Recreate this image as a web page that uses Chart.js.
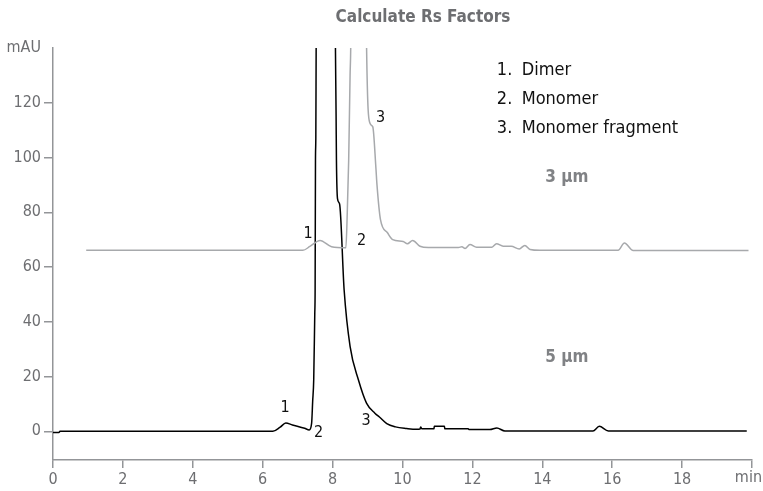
<!DOCTYPE html>
<html>
<head>
<meta charset="utf-8">
<title>Calculate Rs Factors</title>
<script src="https://cdn.jsdelivr.net/npm/chart.js@4.4.0/dist/chart.umd.min.js"></script>
<style>
  html, body { margin: 0; padding: 0; background: #ffffff; }
  #wrap { width: 763px; height: 491px; }
</style>
</head>
<body>
<div id="wrap"><canvas id="rsChart" width="763" height="491"></canvas></div>
<script>
// 5 um column trace (black), time in min, signal in mAU
const blackTime = [0, 0.17, 0.2, 6.29, 6.5, 6.66, 6.85, 7.2, 7.33, 7.4, 7.43, 7.46, 7.49, 7.5, 7.51, 7.52, 7.53, 7.8,
  8.08, 8.1, 8.11, 8.14, 8.2, 8.33, 8.5, 8.74, 8.97, 9.21, 9.34, 9.55, 9.8, 10.12, 10.4, 10.5, 10.52, 10.55, 10.9, 10.91,
  11.2, 11.21, 11.88, 11.9, 12.5, 12.7, 12.93, 15.45, 15.63, 15.89, 19.85];
const blackValue = [-0.5, -0.5, 0, 0, 1.5, 3.0, 2.3, 1.1, 0.5, 3, 11, 19, 43, 52, 99, 107, 142, 600,
  142, 115, 99, 85, 83, 51.6, 31, 18.7, 10.3, 6.6, 5.2, 2.8, 1.6, 1.0, 0.7, 0.8, 1.6, 0.9, 0.9, 1.8,
  1.8, 0.9, 0.9, 0.6, 0.6, 1.2, 0.1, 0.1, 1.8, 0.1, 0.1];

// 3 um column trace (gray)
const grayTime = [0.95, 7.15, 7.35, 7.64, 7.97, 8.38, 8.42, 8.46, 8.5, 8.52, 8.75, 8.97, 9.07, 9.15, 9.24, 9.27,
  9.37, 9.57, 9.72, 10.02, 10.14, 10.29, 10.5, 10.74, 11.6, 11.7, 11.79, 11.93, 12.12, 12.55, 12.69, 12.88,
  13.11, 13.34, 13.5, 13.65, 13.93, 16.17, 16.35, 16.6, 19.9];
const grayValue = [66.1, 66.1, 67.5, 69.7, 67.4, 67.0, 80, 99, 130, 142, 600, 142, 112.5, 111.2, 96, 90,
  77.3, 72.5, 70, 69.3, 68.5, 69.7, 67.6, 67.1, 67.1, 67.4, 66.8, 68.2, 67.2, 67.2, 68.5, 67.6,
  67.6, 66.6, 67.9, 66.4, 66.1, 66.1, 68.8, 66.0, 66.0];

const xTicks = [0, 2, 4, 6, 8, 10, 12, 14, 16, 18, 20];
const yTicks = [0, 20, 40, 60, 80, 100, 120, 140];

// peak numbers: [label, time, mAU]
const blackPeaks = [['1', 6.64, 8.7], ['2', 7.6, -0.6], ['3', 8.96, 3.7]];
const grayPeaks = [['1', 7.30, 72.2], ['2', 8.83, 69.4], ['3', 9.37, 114.5]];

const legendNumbers = ['1.', '2.', '3.'];
const legendNames = ['Dimer', 'Monomer', 'Monomer fragment'];
const legendRows = [131.7, 121.4, 110.8];

const traceLabels = [['3 µm', 14.7, 92.6], ['5 µm', 14.7, 26.9]];

const FONT = "'Liberation Sans Narrow', 'DejaVu Sans Condensed', 'Liberation Sans', sans-serif";
const axisColor = '#939598';
const textGray = '#6d6e71';

function toPoints(xs, ys) {
  return xs.map((x, i) => ({ x: x, y: ys[i] }));
}

const annotations = {
  id: 'annotations',
  afterDraw(chart) {
    const ctx = chart.ctx;
    const xs = chart.scales.x;
    const ys = chart.scales.y;
    ctx.save();
    ctx.textBaseline = 'middle';

    // title
    ctx.fillStyle = textGray;
    ctx.font = 'bold 17px ' + FONT;
    ctx.textAlign = 'center';
    ctx.fillText('Calculate Rs Factors', 423, 18);

    // unit label under the last x tick, kept inside the canvas
    ctx.font = '16px ' + FONT;
    ctx.textAlign = 'right';
    ctx.textBaseline = 'top';
    ctx.fillText('min', 762, xs.top + 10);
    ctx.textBaseline = 'middle';

    // peak numbers
    ctx.textAlign = 'center';
    ctx.fillStyle = '#111111';
    ctx.font = '16px ' + FONT;
    blackPeaks.concat(grayPeaks).forEach(p => {
      ctx.fillText(p[0], xs.getPixelForValue(p[1]), ys.getPixelForValue(p[2]));
    });

    // legend list
    ctx.font = '18px ' + FONT;
    ctx.textAlign = 'left';
    legendRows.forEach((v, i) => {
      const y = ys.getPixelForValue(v);
      ctx.fillText(legendNumbers[i], xs.getPixelForValue(12.7), y);
      ctx.fillText(legendNames[i], xs.getPixelForValue(13.41), y);
    });

    // column labels
    ctx.fillStyle = '#808285';
    ctx.font = 'bold 17px ' + FONT;
    ctx.textAlign = 'center';
    traceLabels.forEach(t => {
      ctx.fillText(t[0], xs.getPixelForValue(t[1]), ys.getPixelForValue(t[2]));
    });
    ctx.restore();
  }
};

new Chart(document.getElementById('rsChart').getContext('2d'), {
  type: 'scatter',
  data: {
    datasets: [
      {
        label: '3 µm',
        data: toPoints(grayTime, grayValue),
        showLine: true,
        borderColor: '#a7a9ac',
        borderWidth: 1.5,
        pointRadius: 0,
        cubicInterpolationMode: 'monotone'
      },
      {
        label: '5 µm',
        data: toPoints(blackTime, blackValue),
        showLine: true,
        borderColor: '#000000',
        borderWidth: 1.5,
        pointRadius: 0,
        cubicInterpolationMode: 'monotone'
      }
    ]
  },
  options: {
    responsive: false,
    animation: false,
    layout: { padding: { top: 48, right: 11, left: 0, bottom: 0 } },
    plugins: {
      legend: { display: false },
      title: { display: false },
      tooltip: { enabled: false }
    },
    scales: {
      x: {
        type: 'linear',
        min: 0,
        max: 20,
        afterBuildTicks: scale => { scale.ticks = xTicks.map(v => ({ value: v })); },
        afterFit: scale => {
          scale.height = 31;
          scale.paddingLeft = 0;
          scale.paddingRight = 0;
        },
        border: { display: true, color: axisColor, width: 1.5 },
        grid: { drawOnChartArea: false, drawTicks: true, tickLength: 8, color: axisColor, lineWidth: 1.5 },
        ticks: {
          color: textGray,
          padding: 2,
          maxRotation: 0,
          autoSkip: false,
          font: { family: FONT, size: 16 },
          callback: v => (v === 20 ? '' : String(v))
        }
      },
      y: {
        type: 'linear',
        min: -10.5,
        max: 140,
        afterBuildTicks: scale => { scale.ticks = yTicks.map(v => ({ value: v })); },
        afterFit: scale => {
          scale.width = 53;
          scale.paddingTop = 0;
          scale.paddingBottom = 0;
        },
        border: { display: true, color: axisColor, width: 1.5 },
        grid: {
          drawOnChartArea: false,
          drawTicks: true,
          tickLength: 9,
          lineWidth: 1.5,
          color: c => (c.tick && c.tick.value === 140 ? 'rgba(0,0,0,0)' : axisColor)
        },
        ticks: {
          color: textGray,
          padding: 3,
          autoSkip: false,
          font: { family: FONT, size: 16 },
          callback: v => (v === 140 ? 'mAU' : String(v))
        }
      }
    }
  },
  plugins: [annotations]
});
</script>
</body>
</html>
